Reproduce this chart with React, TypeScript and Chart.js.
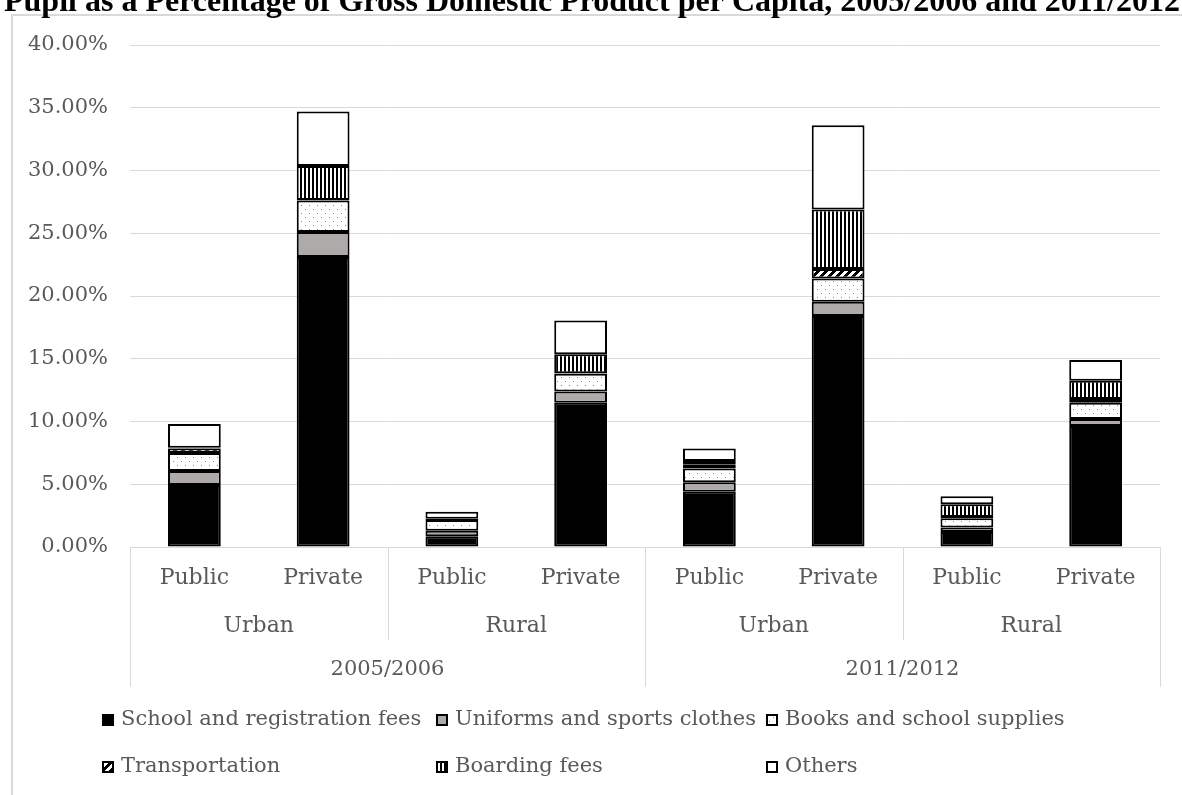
import React, { useEffect, useRef } from "react";
import { Chart, registerables } from "chart.js";

Chart.register(...registerables);

// Household spending per pupil, % of GDP per capita
const subCategories = ["Public", "Private", "Public", "Private", "Public", "Private", "Public", "Private"];
const areaLabels = ["Urban", "Rural", "Urban", "Rural"];
const yearLabels = ["2005/2006", "2011/2012"];

const schoolFees = [4.95, 23.1, 0.85, 11.5, 4.4, 18.4, 1.2, 9.65];
const uniforms = [1.1, 2.0, 0.45, 0.9, 0.75, 1.15, 0.35, 0.55];
const books = [1.45, 2.5, 0.85, 1.4, 1.1, 1.85, 0.75, 1.3];
const transportation = [0.35, 0.05, 0.1, 0.05, 0.3, 0.75, 0.1, 0.3];
const boardingFees = [0.05, 2.7, 0.0, 1.5, 0.3, 4.75, 1.0, 1.45];
const others = [1.9, 4.35, 0.55, 2.7, 1.0, 6.7, 0.65, 1.65];

const seriesNames = [
  "School and registration fees",
  "Uniforms and sports clothes",
  "Books and school supplies",
  "Transportation",
  "Boarding fees",
  "Others",
];

const yTicks = [0, 5, 10, 15, 20, 25, 30, 35, 40];

const TITLE = "Pupil as a Percentage of Gross Domestic Product per Capita, 2005/2006 and 2011/2012";
const WORD_FONT = '22px "DejaVu Serif"';
const NUM_FONT = '21px "DejaVu Serif"';
const LEGEND_FONT = '21px "DejaVu Serif"';
const TEXT_COLOR = "#595959";
const LINE_COLOR = "#d9d9d9";

function makeTile(size: number, paint: (c: CanvasRenderingContext2D) => void): CanvasPattern {
  const cv = document.createElement("canvas");
  cv.width = size;
  cv.height = size;
  const c = cv.getContext("2d")!;
  paint(c);
  return c.createPattern(cv, "repeat")!;
}

function buildFills() {
  const dots = makeTile(8, (c) => {
    c.fillStyle = "#ffffff";
    c.fillRect(0, 0, 8, 8);
    c.fillStyle = "#8a8a8a";
    c.fillRect(1, 1, 1, 1);
    c.fillRect(5, 5, 1, 1);
  });
  const diagonal = makeTile(8, (c) => {
    c.fillStyle = "#ffffff";
    c.fillRect(0, 0, 8, 8);
    c.fillStyle = "#000000";
    for (let y = 0; y < 8; y++) {
      for (let k = 0; k < 4; k++) {
        c.fillRect((7 - y + k + 8) % 8, y, 1, 1);
      }
    }
  });
  const vertical = makeTile(4, (c) => {
    c.fillStyle = "#ffffff";
    c.fillRect(0, 0, 4, 4);
    c.fillStyle = "#000000";
    c.fillRect(0, 0, 2, 4);
  });
  return ["#000000", "#aeaaaa", dots, diagonal, vertical, "#ffffff"] as (string | CanvasPattern)[];
}

const decorPlugin = {
  id: "decor",
  beforeDraw(chart: any) {
    const { ctx } = chart;
    ctx.save();
    ctx.fillStyle = "#ffffff";
    ctx.fillRect(0, 0, chart.width, chart.height);
    // outer frame
    ctx.strokeStyle = LINE_COLOR;
    ctx.lineWidth = 2;
    ctx.strokeRect(12, 15, chart.width + 20, chart.height + 20);
    // title (runs past the top edge)
    ctx.fillStyle = "#000000";
    ctx.font = 'bold 32px "Liberation Serif"';
    ctx.textAlign = "center";
    ctx.textBaseline = "alphabetic";
    ctx.fillText(TITLE, 592, 11);
    ctx.restore();
  },
  afterDraw(chart: any) {
    const { ctx } = chart;
    const xs = chart.scales.x;
    const area = chart.chartArea;
    const px = (i: number) => xs.getPixelForValue(i);
    const half = (px(1) - px(0)) / 2;
    ctx.save();
    // category separators
    ctx.strokeStyle = LINE_COLOR;
    ctx.lineWidth = 1;
    for (let i = 0; i <= subCategories.length; i++) {
      let bottom = 0;
      if (i % 4 === 0) bottom = 687;
      else if (i % 2 === 0) bottom = 640;
      else continue;
      const x = Math.round(i < subCategories.length ? px(i) - half : px(i - 1) + half) + 0.5;
      ctx.beginPath();
      ctx.moveTo(x, area.bottom);
      ctx.lineTo(x, bottom);
      ctx.stroke();
    }
    // multi-level labels
    ctx.fillStyle = TEXT_COLOR;
    ctx.textAlign = "center";
    ctx.textBaseline = "middle";
    ctx.font = WORD_FONT;
    subCategories.forEach((s, i) => ctx.fillText(s, px(i), 578));
    areaLabels.forEach((s, g) => ctx.fillText(s, (px(2 * g) + px(2 * g + 1)) / 2, 626));
    ctx.font = NUM_FONT;
    yearLabels.forEach((s, y) => ctx.fillText(s, (px(4 * y + 1) + px(4 * y + 2)) / 2, 670));

    // legend, three aligned columns
    const colX = [102, 436, 766];
    const rowY = [720, 767];
    ctx.textAlign = "left";
    ctx.font = LEGEND_FONT;
    chart.data.datasets.forEach((ds: any, i: number) => {
      const bx = colX[i % 3];
      const by = rowY[Math.floor(i / 3)];
      const s = 12;
      ctx.fillStyle = ds.backgroundColor;
      ctx.fillRect(bx, by - s / 2, s, s);
      ctx.strokeStyle = "#000000";
      ctx.lineWidth = 2;
      ctx.strokeRect(bx + 1, by - s / 2 + 1, s - 2, s - 2);
      ctx.fillStyle = TEXT_COLOR;
      ctx.fillText(ds.label, bx + 19, by);
    });
    ctx.restore();
  },
};

export default function App() {
  const canvasRef = useRef<HTMLCanvasElement | null>(null);

  useEffect(() => {
    const canvas = canvasRef.current!;
    const fills = buildFills();
    const series = [schoolFees, uniforms, books, transportation, boardingFees, others];
    const chart = new Chart(canvas, {
      type: "bar",
      data: {
        labels: subCategories,
        datasets: series.map((data, i) => ({
          label: seriesNames[i],
          data,
          backgroundColor: fills[i] as any,
          borderColor: "#000000",
          borderWidth: 2,
          borderSkipped: false,
          barPercentage: 0.41,
          categoryPercentage: 1,
        })),
      },
      options: {
        responsive: false,
        animation: false,
        events: [],
        layout: { padding: { top: 45, right: 22, bottom: 0, left: 0 } },
        plugins: {
          legend: { display: false },
          title: { display: false },
          tooltip: { enabled: false },
        },
        scales: {
          x: {
            stacked: true,
            grid: { display: false },
            border: { display: false },
            ticks: { display: false },
            afterFit: (scale: any) => {
              scale.height = 248;
            },
          },
          y: {
            stacked: true,
            min: 0,
            max: 40,
            afterBuildTicks: (scale: any) => {
              scale.ticks = yTicks.map((v) => ({ value: v }));
            },
            grid: { color: LINE_COLOR, lineWidth: 1, drawTicks: false },
            border: { display: false },
            ticks: {
              padding: 22,
              color: TEXT_COLOR,
              font: { family: "'DejaVu Serif', serif", size: 21 },
              callback: (v: any) => Number(v).toFixed(2) + "%",
            },
            afterFit: (scale: any) => {
              scale.width = 130;
            },
          },
        },
      },
      plugins: [decorPlugin],
    });
    return () => chart.destroy();
  }, []);

  return (
    <div style={{ position: "fixed", left: 0, top: 0, width: 1182, height: 795, overflow: "hidden", background: "#fff" }}>
      <canvas ref={canvasRef} width={1182} height={795} style={{ display: "block" }} />
    </div>
  );
}
